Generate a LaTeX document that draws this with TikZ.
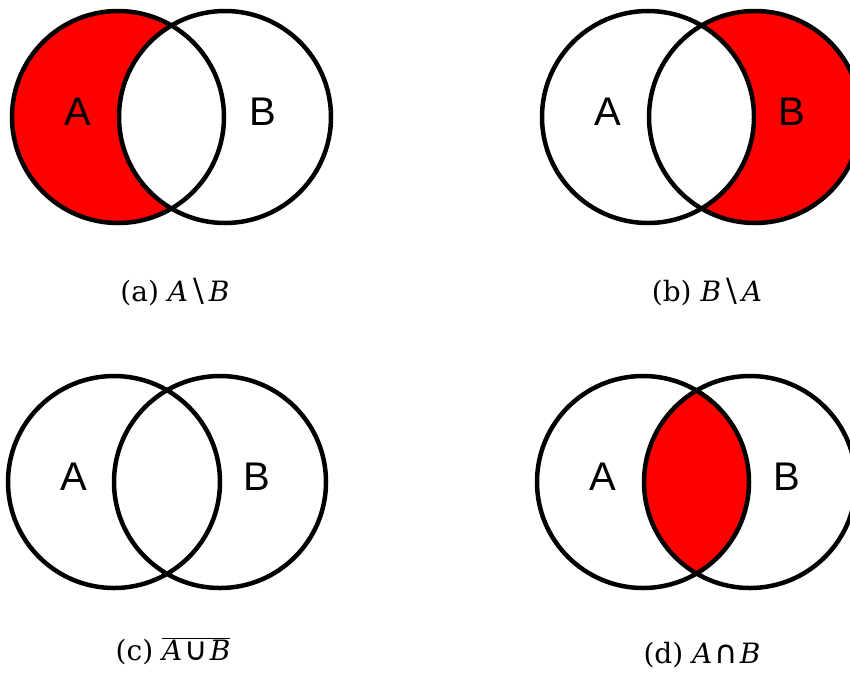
\documentclass[tikz,border=0pt]{standalone}
\usepackage{fontspec}
\setmainfont{DejaVu Serif}
\newfontfamily\labelfont{Liberation Sans}
\newfontfamily\opfont{DejaVu Sans}
\usetikzlibrary{positioning}
\definecolor{vennred}{RGB}{255,0,0}
\tikzset{
  setring/.style={line width=4.5pt},
  setlabel/.style={font=\labelfont\fontsize{40}{40}\selectfont},
  subcap/.style={font=\fontsize{28}{28}\selectfont}
}
\newcommand{\sym}[1]{\textit{#1}}
\newcommand{\setop}[1]{\hspace{2pt}{\opfont\fontsize{32}{32}\selectfont #1}\hspace{2pt}}
\newcommand{\setdiff}{\hspace{5pt}{\fontsize{32}{32}\selectfont\textbackslash}\hspace{5pt}}

\begin{document}
\begin{tikzpicture}[x=1pt,y=-1pt]
  \useasboundingbox (0,0) rectangle (850,673);
  \clip (0,0) rectangle (850,673);
  % ---- (a): A minus B ----
  \coordinate (aA) at (118,117); \coordinate (aB) at (225,117);
  \fill[vennred] (aA) circle[radius=106pt];
  \fill[white] (aB) circle[radius=106pt];
  \draw[setring] (aA) circle[radius=106pt] (aB) circle[radius=106pt];
  \node[setlabel] (la-A) at (78,112) {A};
  \node[setlabel] (la-B) at (263,112) {B};
  \node[subcap] (cap-a) at (175,292) {(a) \sym{A}\setdiff\sym{B}};
  % ---- (b): B minus A ----
  \coordinate (bA) at (648,117); \coordinate (bB) at (755,117);
  \fill[vennred] (bB) circle[radius=106pt];
  \fill[white] (bA) circle[radius=106pt];
  \draw[setring] (bA) circle[radius=106pt] (bB) circle[radius=106pt];
  \node[setlabel] (lb-A) at (608,112) {A};
  \node[setlabel] (lb-B) at (792,112) {B};
  \node[subcap] (cap-b) at (707,292) {(b) \sym{B}\setdiff\sym{A}};
  % ---- (c): complement of the union ----
  \coordinate (cA) at (114,482); \coordinate (cB) at (220,482);
  \draw[setring] (cA) circle[radius=106pt] (cB) circle[radius=106pt];
  \node[setlabel] (lc-A) at (74,477) {A};
  \node[setlabel] (lc-B) at (257,477) {B};
  \node[subcap] (cap-c) at (173,651)
       {(c) $\overline{\mbox{\sym{A}\setop{∪}\sym{B}}}$};
  % ---- (d): intersection ----
  \coordinate (dA) at (643,482); \coordinate (dB) at (750,482);
  \begin{scope}
    \clip (dA) circle[radius=106pt];
    \fill[vennred] (dB) circle[radius=106pt];
  \end{scope}
  \draw[setring] (dA) circle[radius=106pt] (dB) circle[radius=106pt];
  \node[setlabel] (ld-A) at (603,477) {A};
  \node[setlabel] (ld-B) at (787,477) {B};
  \node[subcap] (cap-d) at (702,655) {(d) \sym{A}\setop{∩}\sym{B}};
\end{tikzpicture}
\end{document}
